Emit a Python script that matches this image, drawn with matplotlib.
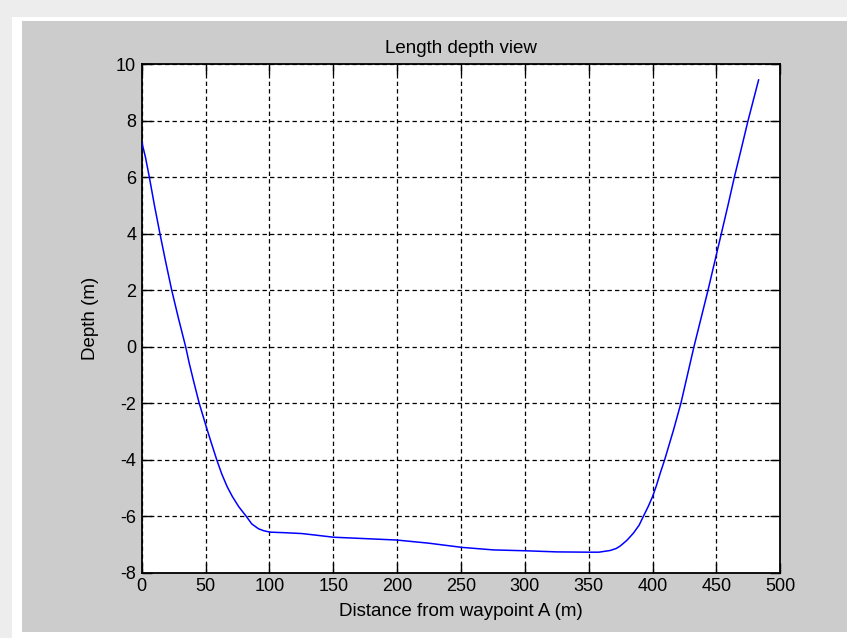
import matplotlib
matplotlib.use("Agg")
import matplotlib.pyplot as plt
from matplotlib.patches import Rectangle

# Data
distance = [0, 3.0, 6.0, 10.0, 14.3, 18.8, 23.5, 28.8, 34.4, 37.3, 40.8, 45.0, 50.9,
            54.8, 58.7, 62.6, 66.8, 71.0, 76.0, 81.7, 86.2, 91.4, 95.5, 100.5,
            112.0, 125.3, 137.0, 150.1, 175.0, 199.7, 224.5, 250.7, 275.4, 300.3,
            325.0, 349.9, 358.0, 366.8, 371.5, 374.7, 379.9, 385.1, 389.5, 392.9,
            396.5, 400.0, 403.0, 406.0, 409.5, 416.4, 422.2, 427.3, 432.4, 437.9,
            443.4, 448.6, 453.8, 459.0, 464.0, 469.4, 474.7, 479.0, 483.0]
depth = [7.26, 6.7, 6.0, 5.0, 4.0, 3.0, 2.0, 1.0, 0.0, -0.6, -1.25, -2.0, -2.89,
         -3.45, -4.0, -4.5, -4.95, -5.31, -5.67, -6.0, -6.28, -6.45, -6.52, -6.57,
         -6.59, -6.62, -6.68, -6.75, -6.80, -6.85, -6.96, -7.11, -7.20, -7.23,
         -7.27, -7.28, -7.28, -7.22, -7.15, -7.06, -6.86, -6.6, -6.32, -6.0,
         -5.67, -5.31, -4.92, -4.48, -4.0, -2.95, -2.0, -1.0, 0.0, 1.0,
         2.0, 3.0, 4.0, 5.0, 6.0, 7.0, 8.0, 8.75, 9.45]

xticks = list(range(0, 501, 50))
yticks = list(range(-8, 11, 2))

title = "Length depth view"
xlabel = "Distance from waypoint A (m)"
ylabel = "Depth (m)"

plt.rcParams['font.family'] = ['Liberation Sans', 'DejaVu Sans']
plt.rcParams['axes.unicode_minus'] = False

W, H = 847, 638
fig = plt.figure(figsize=(W / 100, H / 100), dpi=100, facecolor='#ededed')

# white frame and gray panel (figure-level background decorations)
fig.patches.append(Rectangle((12 / W, 0), 1, 1 - 17 / H, transform=fig.transFigure,
                             facecolor='white', edgecolor='none', zorder=-3))
fig.patches.append(Rectangle((22 / W, 1 - 632 / H), 1, (632 - 21) / H,
                             transform=fig.transFigure, facecolor='#cccccc',
                             edgecolor='none', zorder=-2))

left, right, top, bottom = 141.7, 780.3, 64.4, 572.5
ax = fig.add_axes([left / W, 1 - bottom / H, (right - left) / W, (bottom - top) / H])
ax.set_facecolor('white')

ax.plot(distance, depth, color='#0000ff', lw=1.1, zorder=3)

ax.set_xlim(0, 500)
ax.set_ylim(-8, 10)
ax.set_xticks(xticks)
ax.set_yticks(yticks)
ax.tick_params(direction='in', length=7, width=1, top=True, right=True,
               labelsize=13, colors='black', pad=4)
ax.grid(True, color='black', linestyle=(0, (3.5, 2.5)), linewidth=0.9)
for s in ax.spines.values():
    s.set_linewidth(1.3)
    s.set_color('black')

ax.set_title(title, fontsize=13.5, pad=8)
ax.set_xlabel(xlabel, fontsize=13.5, labelpad=6)
ax.set_ylabel(ylabel, fontsize=13.5, labelpad=12)

fig.savefig('out.png', dpi=100, facecolor=fig.get_facecolor())
